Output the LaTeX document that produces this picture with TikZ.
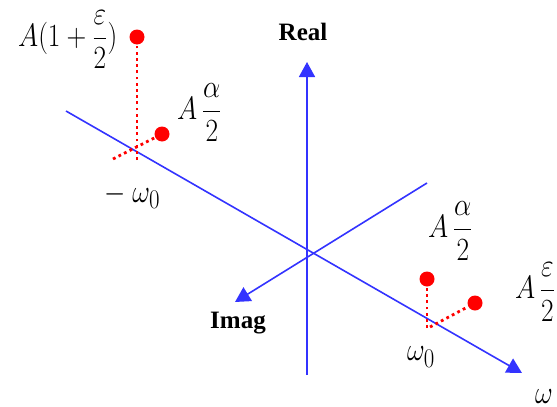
\documentclass[tikz,border=0pt]{standalone}
\usepackage{fontspec}
\setmainfont{Liberation Serif}
\usetikzlibrary{arrows.meta}
\newcommand{\tallmath}[1]{\scalebox{1.1}[1.3]{$\displaystyle #1$}}

\begin{document}
\begin{tikzpicture}[
    x=1pt, y=-1pt,
    axis/.style={draw=blue!80!white, line width=1.6pt},
    axisarrow/.style={axis, -{Triangle[length=15pt,width=16pt]}},
    proj/.style={draw=red, line width=2.8pt, dash pattern=on 2.8pt off 3.4pt},
    peak/.style={circle, fill=red, inner sep=0pt, minimum size=15pt},
    lab/.style={inner sep=0pt, anchor=west, font=\fontsize{24.88}{28}\selectfont},
    axlab/.style={inner sep=0pt, font=\fontsize{25}{28}\selectfont\bfseries}
  ]
  \useasboundingbox (0,0) rectangle (557,407);
  % axes
  \coordinate (realfoot) at (307,375);
  \coordinate (realtip) at (307,62);
  \coordinate (omegastart) at (66,111);
  \coordinate (omegatip) at (522,373);
  \coordinate (imagstart) at (427,183);
  \coordinate (imagtip) at (235,302);
  \draw[axisarrow] (realfoot) -- (realtip);
  \draw[axisarrow] (omegastart) -- (omegatip);
  \draw[axisarrow] (imagstart) -- (imagtip);
  \node[axlab] (reallab) at (303,32) {Real};
  \node[axlab] (imaglab) at (238,323) {Imag};
  \node[lab] (omegalab) at (535,397) {\tallmath{\omega}};

  % peak at -omega_0
  \node[peak] (negreal) at (137,37) {};
  \node[peak] (negimag) at (162,134) {};
  \coordinate (negbase) at (137,160);
  \coordinate (negside) at (113,159);
  \draw[proj] (negbase) -- (negreal);
  \draw[proj] (negside) -- (negimag);
  \node[lab] (negreallab) at (18,40) {\tallmath{A(1 + \frac{\varepsilon}{2})}};
  \node[lab] (negimaglab) at (177,113) {\tallmath{A\,\frac{\alpha}{2}}};
  \node[lab] (negfreq) at (104,196) {\tallmath{-\ \omega_0}};

  % peak at +omega_0
  \node[peak] (posreal) at (427,279) {};
  \node[peak] (posimag) at (475,303) {};
  \coordinate (posbase) at (427,328);
  \coordinate (posside) at (430,327);
  \draw[proj] (posbase) -- (posreal);
  \draw[proj] (posside) -- (posimag);
  \node[lab] (posreallab) at (428,231) {\tallmath{A\,\frac{\alpha}{2}}};
  \node[lab] (posimaglab) at (515,292) {\tallmath{A\,\frac{\varepsilon}{2}}};
  \node[lab] (posfreq) at (407,357) {\tallmath{\omega_0}};
\end{tikzpicture}
\end{document}
